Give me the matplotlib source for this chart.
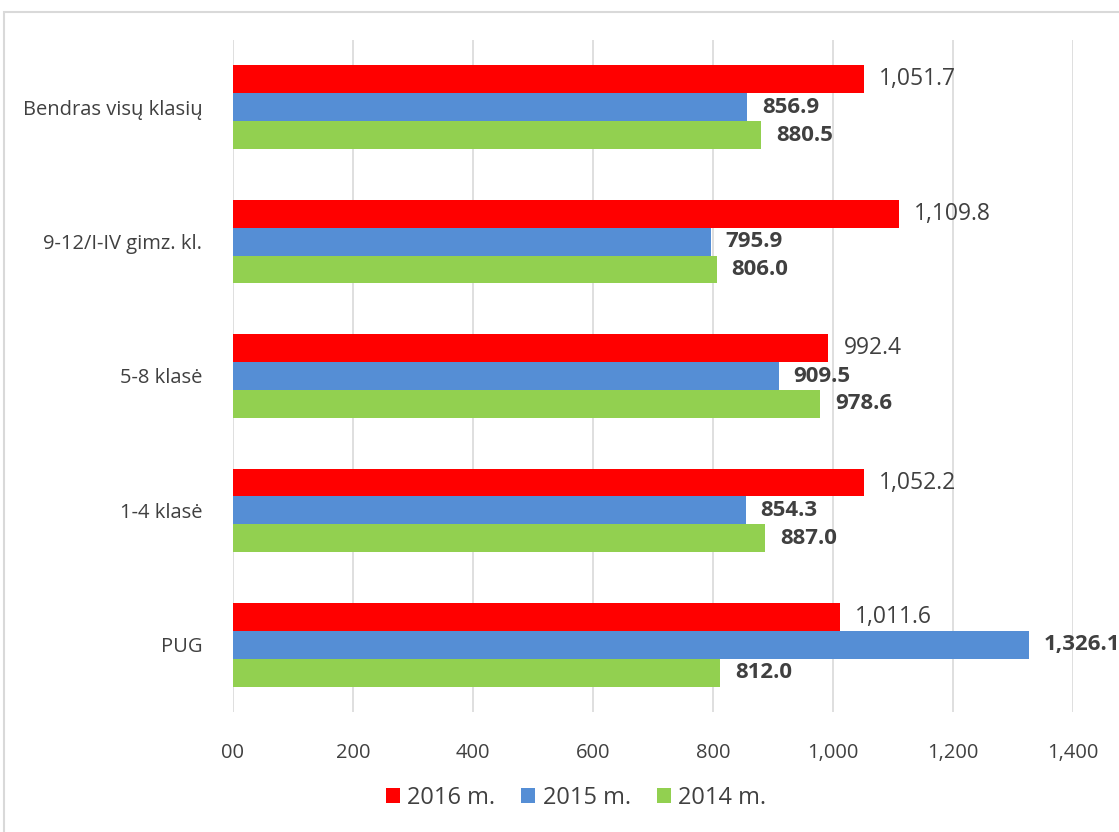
import matplotlib
matplotlib.use("Agg")
import matplotlib.pyplot as plt
from matplotlib.patches import Rectangle

categories = ["PUG", "1-4 klasė", "5-8 klasė", "9-12/I-IV gimz. kl.", "Bendras visų klasių"]
s2016 = [1011.6, 1052.2, 992.4, 1109.8, 1051.7]
s2015 = [1326.1, 854.3, 909.5, 795.9, 856.9]
s2014 = [812.0, 887.0, 978.6, 806.0, 880.5]
series_names = ["2016 m.", "2015 m.", "2014 m."]
xticks = [0, 200, 400, 600, 800, 1000, 1200, 1400]
xtick_labels = ["00", "200", "400", "600", "800", "1,000", "1,200", "1,400"]

plt.rcParams['font.family'] = ['Open Sans', 'DejaVu Sans']
txt = '#404040'

fig = plt.figure(figsize=(11.19, 8.32), dpi=100)
ax = fig.add_axes([233/1119, 1-712/832, (1073-233)/1119, (712-40)/832])

fig.patches.append(Rectangle((4/1119, -0.05), 1.2, 1-12/832+0.05, transform=fig.transFigure,
                             fill=False, edgecolor='#d9d9d9', linewidth=1.5))

colors = ['#FF0000', '#558ED5', '#92D050']
h = 0.207
ypos = list(range(len(categories)))
data = [s2016, s2015, s2014]
bold = [False, True, True]
for i, (vals, c, name, b) in enumerate(zip(data, colors, series_names, bold)):
    ys = [y + h - i*h for y in ypos]
    ax.barh(ys, vals, height=h, color=c, label=name, zorder=3)
    for y, v in zip(ys, vals):
        ax.annotate(f"{v:,.1f}", (v, y), xytext=(15, 0), textcoords='offset pixels',
                    va='center', ha='left', fontsize=16 if b else 16.5,
                    fontweight='bold' if b else 'normal', color=txt)

ax.set_xlim(0, 1400)
ax.set_ylim(-0.5, 4.5)
ax.set_xticks(xticks)
ax.set_xticklabels(xtick_labels)
ax.set_yticks(ypos)
ax.set_yticklabels(categories)
ax.tick_params(axis='both', length=0, labelsize=14.5, colors=txt)
ax.tick_params(axis='x', pad=22)
ax.tick_params(axis='y', pad=22)
ax.grid(axis='x', color='#d9d9d9', linewidth=1.2, zorder=0)
for s in ax.spines.values():
    s.set_visible(False)

leg = fig.legend(loc='center', bbox_to_anchor=(576/1119, 1-798/832), ncol=3, frameon=False,
                 fontsize=17, handlelength=0.6, handleheight=0.6, handletextpad=0.3,
                 columnspacing=1.1)
for t in leg.get_texts():
    t.set_color(txt)

fig.savefig("out.png", dpi=100)
